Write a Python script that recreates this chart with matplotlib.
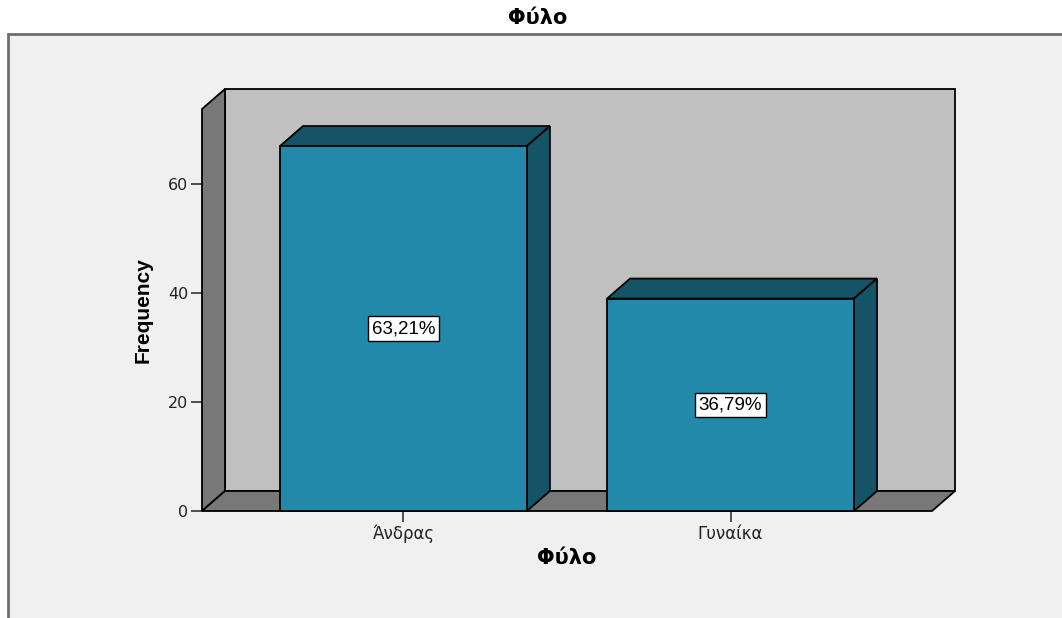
import matplotlib.pyplot as plt
from matplotlib.patches import Polygon, Rectangle

categories = ['Άνδρας', 'Γυναίκα']
counts = [67, 39]
yticks = [0, 20, 40, 60]

front_col = '#2389ab'
dark_col = '#155467'
wall_col = '#c0c0c0'
side_col = '#787878'


def pct_label(c):
    return f"{100 * c / sum(counts):.2f}%".replace('.', ',')


def main():
    fig = plt.figure(figsize=(10.62, 6.18), dpi=100, facecolor='white')

    # outer chart frame (cut off at right and bottom)
    frame = Rectangle((8 / 1062, -0.1), 1.2, 1.1 - 34 / 618,
                      transform=fig.transFigure, facecolor='#f0f0f0',
                      edgecolor='#6e6e6e', lw=2, zorder=-1)
    fig.patches.append(frame)

    ax = fig.add_axes([202 / 1062, 107 / 618, 730 / 1062, 402 / 618])
    ax.set_zorder(2)
    ax.patch.set_visible(False)
    for s in ax.spines.values():
        s.set_visible(False)

    x0, x1 = -0.616, 1.616
    ymax = 73.8
    dx, dy = 0.0703, 3.67
    bw = 0.755
    ax.set_xlim(x0, x1)
    ax.set_ylim(0, ymax)

    lw = 1.3
    # back wall, left wall, floor
    ax.add_patch(Polygon([(x0 + dx, dy), (x1 + dx, dy), (x1 + dx, ymax + dy), (x0 + dx, ymax + dy)],
                         closed=True, fc=wall_col, ec='black', lw=lw, clip_on=False, zorder=1))
    ax.add_patch(Polygon([(x0, 0), (x0 + dx, dy), (x0 + dx, ymax + dy), (x0, ymax)],
                         closed=True, fc=side_col, ec='black', lw=lw, clip_on=False, zorder=2))
    ax.add_patch(Polygon([(x0, 0), (x1, 0), (x1 + dx, dy), (x0 + dx, dy)],
                         closed=True, fc=side_col, ec='black', lw=lw, clip_on=False, zorder=2))

    for i, c in enumerate(counts):
        l, r = i - bw / 2, i + bw / 2
        ax.add_patch(Polygon([(l, c), (r, c), (r + dx, c + dy), (l + dx, c + dy)],
                             closed=True, fc=dark_col, ec='black', lw=lw, clip_on=False, zorder=3))
        ax.add_patch(Polygon([(r, 0), (r + dx, dy), (r + dx, c + dy), (r, c)],
                             closed=True, fc=dark_col, ec='black', lw=lw, clip_on=False, zorder=3))
        ax.add_patch(Rectangle((l, 0), bw, c, fc=front_col, ec='black', lw=lw,
                               clip_on=False, zorder=4))
        ax.text(i, c / 2, pct_label(c), ha='center', va='center', fontsize=13.5,
                family=['Liberation Sans', 'DejaVu Sans'], zorder=5,
                bbox=dict(boxstyle='square,pad=0.2', fc='white', ec='black', lw=1))

    ax.set_xticks(range(len(categories)))
    ax.set_xticklabels(categories, fontsize=12, color='#222222')
    ax.set_yticks(yticks)
    ax.set_yticklabels([str(t) for t in yticks], fontsize=11.5, color='#222222')
    ax.tick_params(axis='both', length=8, width=1.2, color='#333333', pad=2)

    ax.set_xlabel('Φύλο', fontsize=15, fontweight='bold', va='center')
    ax.xaxis.set_label_coords(0.5, -0.117)
    ax.set_ylabel('Frequency', fontsize=15, fontweight='bold', va='center',
                  family=['Liberation Sans', 'DejaVu Sans'])
    ax.yaxis.set_label_coords(-0.081, 0.5)

    fig.text(538 / 1062, 1 - 18 / 618, 'Φύλο', ha='center', va='center',
             fontsize=15, fontweight='bold')

    fig.savefig('out.png', dpi=100, facecolor='white')


if __name__ == "__main__":
    main()
